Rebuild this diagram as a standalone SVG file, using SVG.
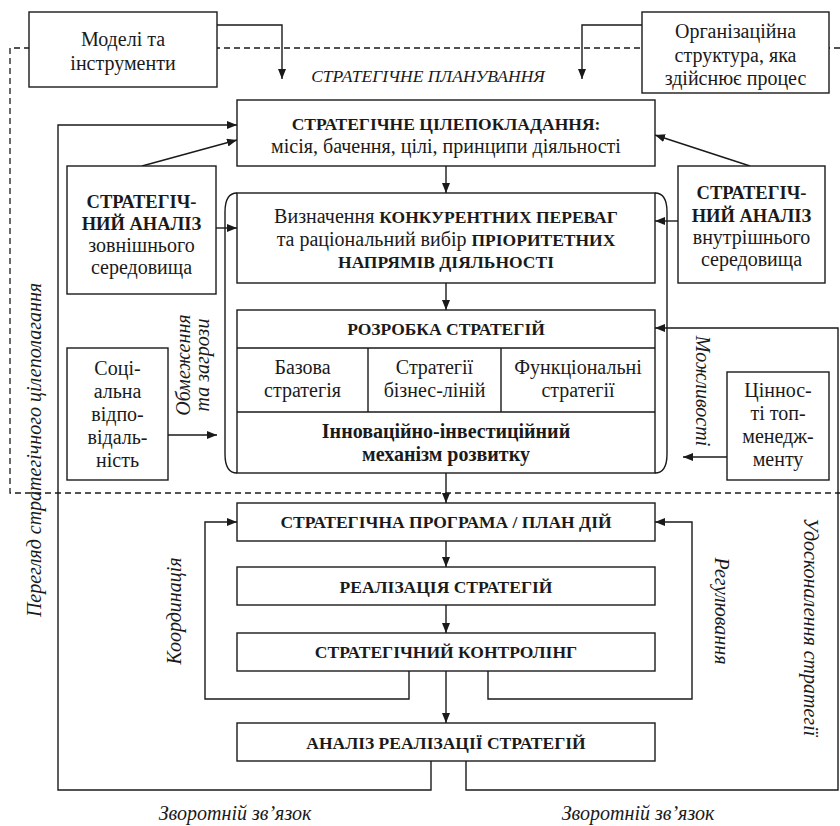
<svg xmlns="http://www.w3.org/2000/svg" width="840" height="826" viewBox="0 0 840 826">
<defs>
<style>
.box{fill:#fff;stroke:#1a1a1a;stroke-width:1.4}
.ln{fill:none;stroke:#1a1a1a;stroke-width:1.4}
.dash{fill:none;stroke:#1a1a1a;stroke-width:1.3;stroke-dasharray:6 4}
text{font-family:"Liberation Serif","DejaVu Serif",serif;font-size:20px;fill:#1a1a1a;text-anchor:middle}
.b{font-weight:bold;font-size:17.5px}
.bs{font-weight:bold;font-size:18.5px}
.bl{font-weight:bold;font-size:20px}
.i{font-style:italic;font-size:20px}
.ic{font-style:italic;font-size:17.5px}
</style>
<marker id="ah" markerWidth="10" markerHeight="8" refX="10" refY="4" orient="auto" markerUnits="userSpaceOnUse">
<path d="M0,0 L10,4 L0,8 z" fill="#1a1a1a"/>
</marker>
</defs>
<rect width="840" height="826" fill="#fff"/>

<g id="planning-zone">
<path class="dash" d="M840,48 H10 V493 H840"/>
<text class="ic" x="428" y="82">СТРАТЕГІЧНЕ ПЛАНУВАННЯ</text>
</g>

<g id="connectors">
<path class="ln" d="M217,25 H282 V79" marker-end="url(#ah)"/>
<path class="ln" d="M642,25 H582 V79" marker-end="url(#ah)"/>
<path class="ln" d="M142,166 L237,140" marker-end="url(#ah)"/>
<path class="ln" d="M750,166 L655,135" marker-end="url(#ah)"/>
<path class="ln" d="M446,166 V193" marker-end="url(#ah)"/>
<path class="ln" d="M216,228 H237" marker-end="url(#ah)"/>
<path class="ln" d="M678,221 H655" marker-end="url(#ah)"/>
<path class="ln" d="M446,283 V310" marker-end="url(#ah)"/>
<path class="ln" d="M168,435 H217" marker-end="url(#ah)"/>
<path class="ln" d="M727,457 H683" marker-end="url(#ah)"/>
<path class="ln" d="M446,473 V503" marker-end="url(#ah)"/>
<path class="ln" d="M446,541 V567" marker-end="url(#ah)"/>
<path class="ln" d="M446,605 V633" marker-end="url(#ah)"/>
<path class="ln" d="M446,671 V723" marker-end="url(#ah)"/>
<path class="ln" d="M409,671 V699 H205 V522 H237" marker-end="url(#ah)"/>
<path class="ln" d="M488,671 V699 H692 V522 H655" marker-end="url(#ah)"/>
<path class="ln" d="M431,761 V790 H58 V125 H237" marker-end="url(#ah)"/>
<path class="ln" d="M466,761 V790 H838 V328 H655" marker-end="url(#ah)"/>
<path class="ln" d="M237,193 Q225,193 225,212 V454 Q225,473 237,473"/>
<path class="ln" d="M655,193 Q667,193 667,212 V454 Q667,473 655,473"/>
</g>

<g id="n-models">
<rect class="box" x="29" y="12" width="188" height="75"/>
<text x="123" y="46">Моделі та</text>
<text x="123" y="70">інструменти</text>
</g>

<g id="n-org">
<rect class="box" x="642" y="12" width="187" height="81"/>
<text x="735.5" y="38">Організаційна</text>
<text x="735.5" y="62">структура, яка</text>
<text x="735.5" y="85">здійснює процес</text>
</g>

<g id="n-goals">
<rect class="box" x="237" y="100" width="418" height="66"/>
<text class="b" x="446" y="130">СТРАТЕГІЧНЕ ЦІЛЕПОКЛАДАННЯ:</text>
<text x="446" y="153">місія, бачення, цілі, принципи діяльності</text>
</g>

<g id="n-ext">
<rect class="box" x="67" y="166" width="149" height="128"/>
<text class="bs" x="141.5" y="208">СТРАТЕГІЧ-</text>
<text class="bs" x="141.5" y="230">НИЙ АНАЛІЗ</text>
<text x="141.5" y="252">зовнішнього</text>
<text x="141.5" y="274">середовища</text>
</g>

<g id="n-int">
<rect class="box" x="678" y="166" width="147" height="117"/>
<text class="bs" x="751.5" y="199">СТРАТЕГІЧ-</text>
<text class="bs" x="751.5" y="222">НИЙ АНАЛІЗ</text>
<text x="751.5" y="244">внутрішнього</text>
<text x="751.5" y="266">середовища</text>
</g>

<g id="n-advantages">
<rect class="box" x="237" y="193" width="418" height="90"/>
<text x="446" y="223">Визначення <tspan class="b">КОНКУРЕНТНИХ ПЕРЕВАГ</tspan></text>
<text x="446" y="246">та раціональний вибір <tspan class="b">ПРІОРИТЕТНИХ</tspan></text>
<text class="b" x="446" y="268">НАПРЯМІВ ДІЯЛЬНОСТІ</text>
</g>

<g id="n-development">
<rect class="box" x="237" y="310" width="418" height="163"/>
<path class="ln" d="M237,348 H655 M237,412 H655 M368,348 V412 M501,348 V412"/>
<text class="b" x="446" y="335">РОЗРОБКА СТРАТЕГІЙ</text>
<text x="302.5" y="374">Базова</text>
<text x="302.5" y="397">стратегія</text>
<text x="434.5" y="374">Стратегії</text>
<text x="434.5" y="397">бізнес-ліній</text>
<text x="578" y="374">Функціональні</text>
<text x="578" y="397">стратегії</text>
<text class="bl" x="446" y="438">Інноваційно-інвестиційний</text>
<text class="bl" x="446" y="461">механізм розвитку</text>
</g>

<g id="n-social">
<rect class="box" x="67" y="348" width="101" height="132"/>
<text x="117.5" y="375">Соці-</text>
<text x="117.5" y="398">альна</text>
<text x="117.5" y="421">відпо-</text>
<text x="117.5" y="444">відаль-</text>
<text x="117.5" y="467">ність</text>
</g>

<g id="n-values">
<rect class="box" x="727" y="372" width="102" height="108"/>
<text x="778" y="397">Ціннос-</text>
<text x="778" y="420">ті топ-</text>
<text x="778" y="443">менедж-</text>
<text x="778" y="466">менту</text>
</g>

<g id="n-program">
<rect class="box" x="237" y="503" width="418" height="38"/>
<text class="b" x="446" y="528">СТРАТЕГІЧНА ПРОГРАМА / ПЛАН ДІЙ</text>
</g>
<g id="n-implementation">
<rect class="box" x="237" y="567" width="418" height="38"/>
<text class="b" x="446" y="593">РЕАЛІЗАЦІЯ СТРАТЕГІЙ</text>
</g>
<g id="n-controlling">
<rect class="box" x="237" y="633" width="418" height="38"/>
<text class="b" x="446" y="658">СТРАТЕГІЧНИЙ КОНТРОЛІНГ</text>
</g>
<g id="n-analysis">
<rect class="box" x="237" y="723" width="418" height="38"/>
<text class="b" x="446" y="749">АНАЛІЗ РЕАЛІЗАЦІЇ СТРАТЕГІЙ</text>
</g>

<g id="labels">
<text class="i" transform="translate(41,450) rotate(-90)">Перегляд стратегічного цілеполагання</text>
<text class="i" transform="translate(190,365) rotate(-90)">Обмеження</text>
<text class="i" transform="translate(209,365) rotate(-90)">та загрози</text>
<text class="i" transform="translate(696,391) rotate(90)">Можливості</text>
<text class="i" transform="translate(181,611) rotate(-90)">Координація</text>
<text class="i" transform="translate(715,611) rotate(90)">Регулювання</text>
<text class="i" transform="translate(804,627) rotate(90)">Удосконалення стратегії</text>
<text class="i" x="235" y="820">Зворотній зв’язок</text>
<text class="i" x="638" y="820">Зворотній зв’язок</text>
</g>
</svg>
